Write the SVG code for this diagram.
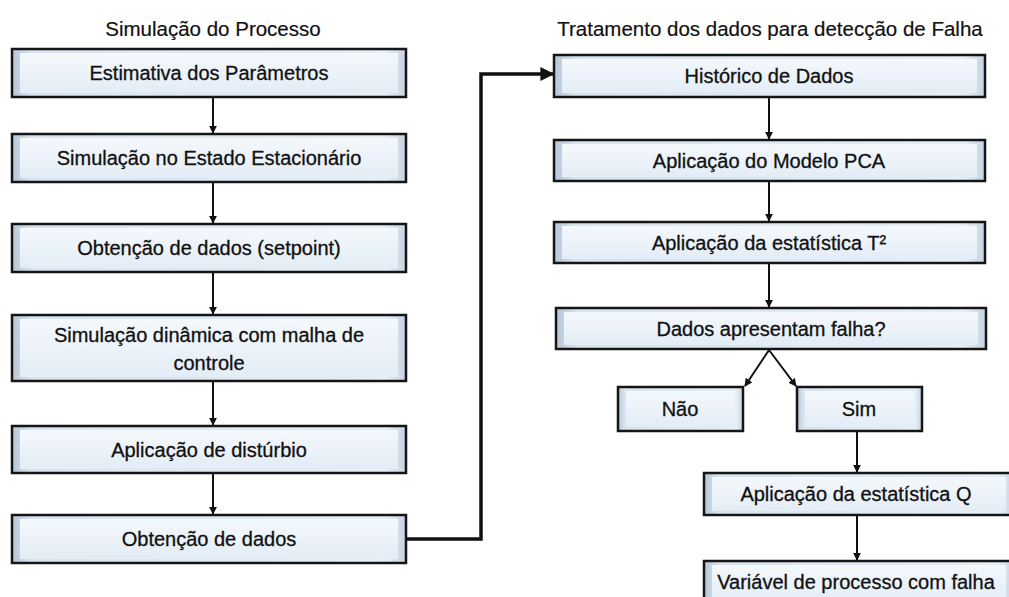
<svg xmlns="http://www.w3.org/2000/svg" width="1009" height="597" viewBox="0 0 1009 597">
<defs>
<linearGradient id="face" x1="0" y1="0" x2="0" y2="1">
<stop offset="0" stop-color="#f4f8fc"/>
<stop offset="1" stop-color="#e3edf6"/>
</linearGradient>
<linearGradient id="bevel" x1="0" y1="0" x2="1" y2="0">
<stop offset="0" stop-color="#b5c6d7"/>
<stop offset="0.05" stop-color="#d8e4ef"/>
<stop offset="0.95" stop-color="#e6eef6"/>
<stop offset="1" stop-color="#c5d3e1"/>
</linearGradient>
<marker id="ah" viewBox="0 0 10 10" refX="9" refY="5" markerWidth="4" markerHeight="4" orient="auto">
<path d="M0,0 L10,5 L0,10 z" fill="#111"/>
</marker>
</defs>
<style>
.box rect.o{fill:url(#bevel);stroke:#151515;stroke-width:2.5}
.box rect.i{fill:url(#face);stroke:none}
.lbl{font-family:"Liberation Sans",Arial,sans-serif;font-size:20px;fill:#111;stroke:#111;stroke-width:0.3;text-anchor:middle;dominant-baseline:central}
.ttl{font-family:"Liberation Sans",Arial,sans-serif;font-size:20.5px;fill:#111;stroke:#111;stroke-width:0.2;text-anchor:middle}
.con line,.con path{stroke:#111;stroke-width:2;fill:none}
.con .thick{stroke-width:3.5}
</style>
<rect width="1009" height="597" fill="#fff"/>
<text class="ttl" x="213" y="36">Simulação do Processo</text>
<text class="ttl" x="770" y="36">Tratamento dos dados para detecção de Falha</text>

<g id="n1" class="box"><rect class="o" x="12" y="49" width="394" height="48"/><rect class="i" x="20" y="53" width="378" height="40"/><text class="lbl" x="209" y="73">Estimativa dos Parâmetros</text></g>
<g id="n2" class="box"><rect class="o" x="12" y="134" width="394" height="48"/><rect class="i" x="20" y="138" width="378" height="40"/><text class="lbl" x="209" y="158">Simulação no Estado Estacionário</text></g>
<g id="n3" class="box"><rect class="o" x="12" y="224" width="394" height="48"/><rect class="i" x="20" y="228" width="378" height="40"/><text class="lbl" x="209" y="248">Obtenção de dados (setpoint)</text></g>
<g id="n4" class="box"><rect class="o" x="12" y="315" width="394" height="66"/><rect class="i" x="20" y="319" width="378" height="58"/><text class="lbl" x="209" y="335">Simulação dinâmica com malha de</text><text class="lbl" x="209" y="363">controle</text></g>
<g id="n5" class="box"><rect class="o" x="12" y="426" width="394" height="47"/><rect class="i" x="20" y="430" width="378" height="39"/><text class="lbl" x="209" y="450">Aplicação de distúrbio</text></g>
<g id="n6" class="box"><rect class="o" x="12" y="515" width="394" height="48"/><rect class="i" x="20" y="519" width="378" height="40"/><text class="lbl" x="209" y="539">Obtenção de dados</text></g>

<g id="r1" class="box"><rect class="o" x="554" y="55" width="431" height="42"/><rect class="i" x="562" y="59" width="415" height="34"/><text class="lbl" x="769" y="76">Histórico de Dados</text></g>
<g id="r2" class="box"><rect class="o" x="554" y="140" width="431" height="41"/><rect class="i" x="562" y="144" width="415" height="33"/><text class="lbl" x="769" y="161">Aplicação do Modelo PCA</text></g>
<g id="r3" class="box"><rect class="o" x="554" y="222" width="431" height="41"/><rect class="i" x="562" y="226" width="415" height="33"/><text class="lbl" x="769" y="243">Aplicação da estatística T²</text></g>
<g id="r4" class="box"><rect class="o" x="556" y="308" width="430" height="41"/><rect class="i" x="564" y="312" width="414" height="33"/><text class="lbl" x="771" y="329">Dados apresentam falha?</text></g>
<g id="r5" class="box"><rect class="o" x="618" y="387" width="125" height="44"/><rect class="i" x="626" y="391" width="109" height="36"/><text class="lbl" x="680" y="409">Não</text></g>
<g id="r6" class="box"><rect class="o" x="797" y="387" width="125" height="44"/><rect class="i" x="805" y="391" width="109" height="36"/><text class="lbl" x="859" y="409">Sim</text></g>
<g id="r7" class="box"><rect class="o" x="704" y="473" width="310" height="42"/><rect class="i" x="712" y="477" width="294" height="34"/><text class="lbl" x="856" y="494">Aplicação da estatística Q</text></g>
<g id="r8" class="box"><rect class="o" x="704" y="561" width="310" height="45"/><rect class="i" x="712" y="565" width="294" height="37"/><text class="lbl" x="856" y="582">Variável de processo com falha</text></g>

<g id="connectors" class="con">
<line x1="213" y1="97" x2="213" y2="133" marker-end="url(#ah)"/>
<line x1="213" y1="182" x2="213" y2="223" marker-end="url(#ah)"/>
<line x1="213" y1="272" x2="213" y2="314" marker-end="url(#ah)"/>
<line x1="213" y1="381" x2="213" y2="425" marker-end="url(#ah)"/>
<line x1="213" y1="473" x2="213" y2="514" marker-end="url(#ah)"/>
<path class="thick" d="M406,539 H481 V74 H553" marker-end="url(#ah)"/>
<line x1="769" y1="97" x2="769" y2="139" marker-end="url(#ah)"/>
<line x1="769" y1="181" x2="769" y2="221" marker-end="url(#ah)"/>
<line x1="769" y1="263" x2="769" y2="307" marker-end="url(#ah)"/>
<line x1="769" y1="350" x2="745" y2="386" marker-end="url(#ah)"/>
<line x1="769" y1="350" x2="796" y2="386" marker-end="url(#ah)"/>
<line x1="857" y1="431" x2="857" y2="472" marker-end="url(#ah)"/>
<line x1="857" y1="515" x2="857" y2="560" marker-end="url(#ah)"/>
</g>
</svg>
